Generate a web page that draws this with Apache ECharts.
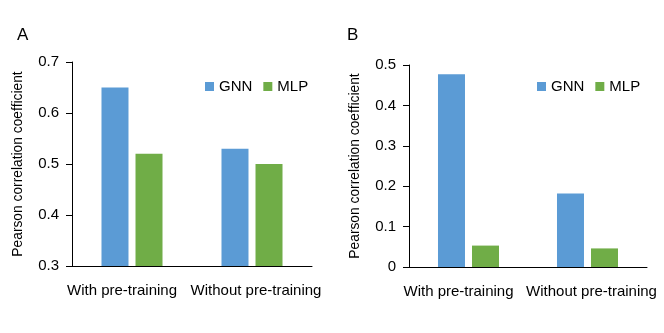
<!DOCTYPE html>
<html>
<head>
<meta charset="utf-8">
<script src="https://cdn.jsdelivr.net/npm/echarts@6/dist/echarts.min.js"></script>
<style>
  html, body { margin: 0; padding: 0; background: #fff; }
  #chart { width: 664px; height: 333px; }
</style>
</head>
<body>
<div id="chart"></div>
<script>
// data
var categories = ['With pre-training', 'Without pre-training'];
var seriesNames = ['GNN', 'MLP'];
var gnnA = [0.65, 0.53];
var mlpA = [0.52, 0.50];
var gnnB = [0.477, 0.182];
var mlpB = [0.053, 0.046];

var FONT = '"Liberation Sans", Arial, sans-serif';
var BLUE = '#5B9BD5';
var GREEN = '#70AD47';
// labels are nudged apart a bit like in the original
var labelPads = [[0, 20, 0, 0], [0, 0, 0, 8]];

var chart = echarts.init(document.getElementById('chart'));

function xAx(idx) {
    return {
        type: 'category', gridIndex: idx,
        data: categories.map(function (c, i) {
            return { value: c, textStyle: { padding: labelPads[i] } };
        }),
        axisLine: { lineStyle: { color: '#000', width: 1 } },
        axisTick: { show: false },
        axisLabel: { color: '#000', fontFamily: FONT, fontSize: 15, margin: 17, interval: 0, hideOverlap: false }
    };
}
function yAx(idx, min, max, fmt) {
    return {
        type: 'value', gridIndex: idx, min: min, max: max, interval: 0.1,
        name: 'Pearson correlation coefficient', nameLocation: 'middle', nameGap: 47,
        nameTextStyle: { color: '#000', fontFamily: FONT, fontSize: 13.8 },
        splitLine: { show: false },
        axisLine: { show: true, lineStyle: { color: '#000', width: 1 } },
        axisTick: { show: true, length: 6, lineStyle: { color: '#000' } },
        axisLabel: { color: '#000', fontFamily: FONT, fontSize: 15, margin: 13, formatter: fmt }
    };
}
function bar(name, data, color, idx) {
    return {
        name: name, type: 'bar', xAxisIndex: idx, yAxisIndex: idx, data: data,
        barWidth: 27, barGap: '26%',
        itemStyle: { color: color }
    };
}
function legend(left) {
    return {
        left: left, top: 74, data: seriesNames, icon: 'rect',
        itemWidth: 9, itemHeight: 9, itemGap: 11,
        textStyle: { color: '#000', fontFamily: FONT, fontSize: 15 }
    };
}

var option = {
    animation: false,
    title: [
        { text: 'A', left: 12, top: 22, textStyle: { fontFamily: FONT, fontSize: 17, fontWeight: 'normal', color: '#000' } },
        { text: 'B', left: 342, top: 22, textStyle: { fontFamily: FONT, fontSize: 17, fontWeight: 'normal', color: '#000' } }
    ],
    legend: [legend(200), legend(532)],
    grid: [
        { left: 72, right: 352, top: 62, bottom: 67 },
        { left: 409, right: 17, top: 65, bottom: 66 }
    ],
    xAxis: [xAx(0), xAx(1)],
    yAxis: [
        yAx(0, 0.3, 0.7, function (v) { return v.toFixed(1); }),
        yAx(1, 0, 0.5, function (v) { return v === 0 ? '0' : v.toFixed(1); })
    ],
    series: [
        bar('GNN', gnnA, BLUE, 0),
        bar('MLP', mlpA, GREEN, 0),
        bar('GNN', gnnB, BLUE, 1),
        bar('MLP', mlpB, GREEN, 1)
    ]
};
chart.setOption(option);
</script>
</body>
</html>
